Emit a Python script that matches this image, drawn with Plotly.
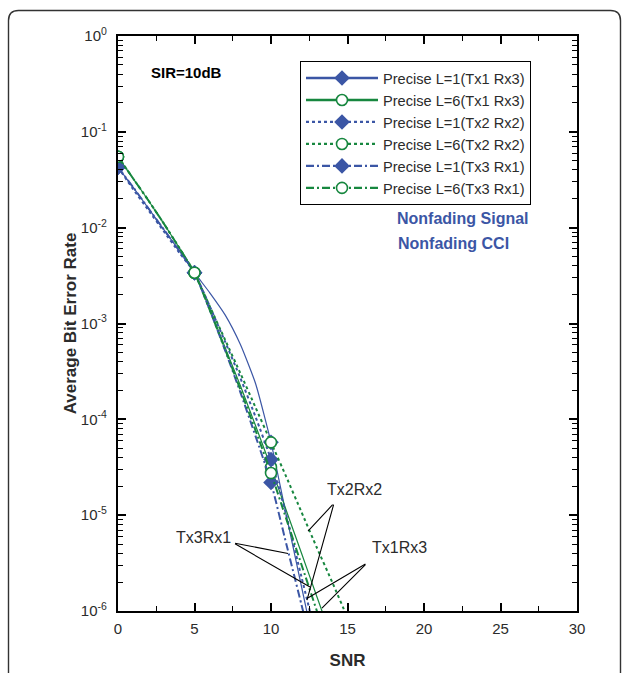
import plotly.graph_objects as go

# ---------------- data ----------------
snr = [0, 1, 2, 3, 4, 5, 6, 7, 8, 9, 10, 11, 12, 13, 14, 15, 16]

ber_L1_tx1rx3 = [4.27e-2, 2.63e-2, 1.58e-2, 9.55e-3, 5.75e-3, 3.39e-3, 2.09e-3, 1.23e-3,
                 6.03e-4, 2.34e-4, 5.75e-5, 1.00e-5, 1.78e-6, 3.16e-7]
ber_L6_tx1rx3 = [5.50e-2, 3.24e-2, 1.91e-2, 1.10e-2, 6.17e-3, 3.39e-3, 1.41e-3, 5.62e-4,
                 2.24e-4, 8.51e-5, 3.16e-5, 1.12e-5, 3.98e-6, 1.41e-6, 5.01e-7]
ber_L1_tx2rx2 = [4.27e-2, 2.51e-2, 1.51e-2, 9.12e-3, 5.50e-3, 3.39e-3, 1.51e-3, 6.46e-4,
                 2.69e-4, 1.05e-4, 3.80e-5, 1.00e-5, 2.24e-6, 5.01e-7]
ber_L6_tx2rx2 = [5.50e-2, 3.24e-2, 1.91e-2, 1.10e-2, 6.17e-3, 3.39e-3, 1.51e-3, 6.76e-4,
                 3.02e-4, 1.32e-4, 5.75e-5, 2.51e-5, 1.07e-5, 4.57e-6, 2.00e-6, 8.51e-7, 3.63e-7]
ber_L1_tx3rx1 = [4.27e-2, 2.63e-2, 1.58e-2, 9.55e-3, 5.75e-3, 3.39e-3, 1.38e-3, 5.25e-4,
                 1.91e-4, 6.61e-5, 2.19e-5, 5.01e-6, 1.15e-6, 2.63e-7]
ber_L6_tx3rx1 = [5.50e-2, 3.24e-2, 1.91e-2, 1.10e-2, 6.17e-3, 3.39e-3, 1.38e-3, 5.37e-4,
                 2.04e-4, 7.59e-5, 2.75e-5, 9.12e-6, 3.02e-6, 1.00e-6, 3.31e-7]

marker_snr = [0, 5, 10]

series_names = ["Precise L=1(Tx1 Rx3)", "Precise L=6(Tx1 Rx3)",
                "Precise L=1(Tx2 Rx2)", "Precise L=6(Tx2 Rx2)",
                "Precise L=1(Tx3 Rx1)", "Precise L=6(Tx3 Rx1)"]

x_ticks = [0, 5, 10, 15, 20, 25, 30]
y_ticks = [1e0, 1e-1, 1e-2, 1e-3, 1e-4, 1e-5, 1e-6]
y_ticktext = ["10<sup>0</sup>", "10<sup>-1</sup>", "10<sup>-2</sup>", "10<sup>-3</sup>",
              "10<sup>-4</sup>", "10<sup>-5</sup>", "10<sup>-6</sup>"]

# ---------------- styling ----------------
BLUE = "#3b56a5"
GREEN = "#17873f"
FONT = "Liberation Sans, Arial, sans-serif"
TXT = "#2b2b2b"

series = [
    (ber_L1_tx1rx3, BLUE, "solid", 1.2, 2.6, "diamond", BLUE),
    (ber_L6_tx1rx3, GREEN, "solid", 1.2, 2.6, "circle", "white"),
    (ber_L1_tx2rx2, BLUE, "dot", 2.0, 2.2, "diamond", BLUE),
    (ber_L6_tx2rx2, GREEN, "dot", 2.0, 2.2, "circle", "white"),
    (ber_L1_tx3rx1, BLUE, "8px,3px,2px,3px", 2.0, 2.2, "diamond", BLUE),
    (ber_L6_tx3rx1, GREEN, "8px,3px,2px,3px", 2.0, 2.2, "circle", "white"),
]

fig = go.Figure()

for (ys, col, dash, w, lw, sym, fill), name in zip(series, series_names):
    xs = snr[:len(ys)]
    fig.add_trace(go.Scatter(x=xs, y=ys, mode="lines", line=dict(color=col, width=w, dash=dash,
                                                                   shape="spline", smoothing=0.5),
                             showlegend=False, hoverinfo="skip"))
    mx = [s for s in marker_snr]
    my = [ys[snr.index(s)] for s in marker_snr]
    fig.add_trace(go.Scatter(x=mx, y=my, mode="markers",
                             marker=dict(symbol=sym, size=11 if sym == "circle" else 12, color=fill,
                                         line=dict(color=col, width=1.6 if sym == "circle" else 0)),
                             showlegend=False, hoverinfo="skip"))

# legend-only entries (empty data)
for (ys, col, dash, w, lw, sym, fill), name in zip(series, series_names):
    fig.add_trace(go.Scatter(x=[None], y=[None], mode="lines+markers", name=name,
                             line=dict(color=col, width=lw, dash=dash),
                             marker=dict(symbol=sym, size=11 if sym == "circle" else 12, color=fill,
                                         line=dict(color=col, width=1.6 if sym == "circle" else 0))))

# ---------------- annotations ----------------
ann = []
def label(x, ylog, text, size=16, color=TXT, bold=False, xanchor="center"):
    t = f"<b>{text}</b>" if bold else text
    ann.append(dict(x=x, y=ylog, xref="x", yref="y", text=t, showarrow=False,
                    xanchor=xanchor, yanchor="middle", font=dict(family=FONT, size=size, color=color)))

def leader(x0, y0, x1, y1):
    ann.append(dict(x=x1, y=y1, ax=x0, ay=y0, xref="x", yref="y", axref="x", ayref="y",
                    text="", showarrow=True, arrowhead=0, arrowwidth=1.1, arrowcolor="black",
                    standoff=0, startstandoff=0))

label(2.0, -0.376, "SIR=10dB", size=15, color="black", bold=True, xanchor="left")
label(18.1, -1.90, "Nonfading Signal", size=16, color=BLUE, bold=True, xanchor="left")
label(18.2, -2.17, "Nonfading CCI", size=16, color=BLUE, bold=True, xanchor="left")

label(15.45, -4.73, "Tx2Rx2")
leader(14.12, -4.875, 12.42, -5.167)
leader(14.12, -4.875, 12.35, -5.887)

label(5.6, -5.23, "Tx3Rx1")
leader(7.55, -5.29, 11.11, -5.40)
leader(7.55, -5.29, 12.55, -5.75)

label(18.4, -5.34, "Tx1Rx3")
leader(16.27, -5.50, 12.35, -5.87)
leader(16.27, -5.50, 13.33, -5.97)

# ---------------- outer rounded frame ----------------
W, H = 627, 673
L, R, T, B = 118, 50, 36, 62
pw, ph = W - L - R, H - T - B
def px(x): return (x - L) / pw
def py(y): return (H - B - y) / ph
rx, ry = 10 / pw, 10 / ph
x0, x1, y0, y1 = px(8.5), px(620.5), py(10.5), py(690)
path = (f"M{x0},{y1} L{x0},{y0 - ry} Q{x0},{y0} {x0 + rx},{y0} "
        f"L{x1 - rx},{y0} Q{x1},{y0} {x1},{y0 - ry} L{x1},{y1}")

fig.update_layout(
    width=W, height=H,
    margin=dict(l=L, r=R, t=T, b=B),
    paper_bgcolor="white", plot_bgcolor="white",
    font=dict(family=FONT, size=15, color=TXT),
    annotations=ann,
    shapes=[dict(type="path", path=path, xref="paper", yref="paper",
                 line=dict(color="#333333", width=1.4), layer="below")],
    legend=dict(x=px(300), y=py(61), xanchor="left", yanchor="top",
                bordercolor="black", borderwidth=1, bgcolor="white",
                font=dict(family=FONT, size=14.6, color=TXT),
                itemwidth=72, tracegroupgap=0),
    showlegend=True,
)

fig.update_xaxes(range=[0, 30], tickvals=x_ticks, ticks="inside", ticklen=8, tickwidth=1.5,
                 tickcolor="black", showline=True, linewidth=2.2, linecolor="black",
                 mirror="allticks", showgrid=False, zeroline=False, automargin=False,
                 minor=dict(ticks="inside", ticklen=5, tickwidth=1, tickcolor="black", dtick=2.5),
                 tickfont=dict(family=FONT, size=15, color=TXT), ticklabelstandoff=3,
                 title=dict(text="<b>SNR</b>", font=dict(family=FONT, size=17, color=TXT), standoff=18))

fig.update_yaxes(type="log", range=[-6, 0], tickvals=y_ticks, ticktext=y_ticktext,
                 ticks="inside", ticklen=8, tickwidth=1.5, tickcolor="black",
                 showline=True, linewidth=2.2, linecolor="black", mirror="allticks",
                 showgrid=False, zeroline=False, automargin=False,
                 minor=dict(ticks="inside", ticklen=5, tickwidth=1, tickcolor="black", dtick="D1"),
                 tickfont=dict(family=FONT, size=15, color=TXT), ticklabelstandoff=6,
                 title=dict(text="<b>Average Bit Error Rate</b>",
                            font=dict(family=FONT, size=17, color=TXT), standoff=0))

fig.write_html("out.html")
